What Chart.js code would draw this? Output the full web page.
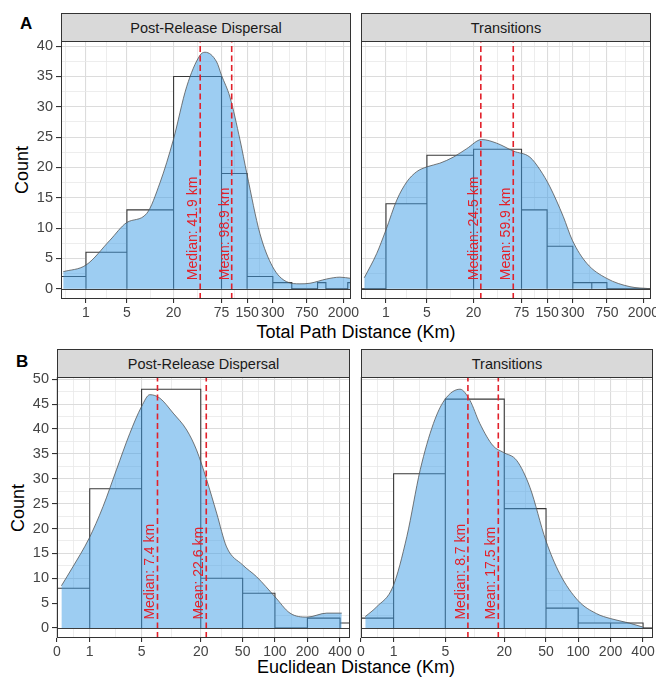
<!DOCTYPE html>
<html>
<head>
<meta charset="utf-8">
<title>Dispersal distances</title>
<script src="https://cdn.jsdelivr.net/npm/chart.js@4.4.1/dist/chart.umd.min.js"></script>
<style>
  body { margin: 0; background: #fff; font-family: "Liberation Sans", Arial, sans-serif; }
  #page { position: relative; width: 656px; height: 681px; overflow: hidden; background: #fff; }
  .panel { position: absolute; }
  .strip { position: absolute; height: 29px; box-sizing: border-box; background: #d9d9d9; border: 1px solid #333;
           color: #1a1a1a; font-size: 14.5px; display: flex; align-items: center; justify-content: center; }
  .tag { position: absolute; font-weight: bold; font-size: 17px; line-height: 17px; color: #000; }
  .xtitle, .ytitle { position: absolute; font-size: 18px; line-height: 18px; color: #000; white-space: nowrap;
                     transform: translate(-50%, -50%); }
  .ytitle { transform: translate(-50%, -50%) rotate(-90deg); }
</style>
</head>
<body>
<div id="page">
  <div class="tag" style="left:20px;top:15px">A</div>
  <div class="strip" style="left:61px;top:13px;width:290px">Post-Release Dispersal</div>
  <div class="strip" style="left:361px;top:13px;width:290px">Transitions</div>
  <div class="ytitle" style="left:22px;top:170px">Count</div>
  <div class="xtitle" style="left:356px;top:332px">Total Path Distance (Km)</div>
  <div class="panel" style="left:0;top:31px;width:361px;height:290px"><canvas id="pathDispersal"></canvas></div>
  <div class="panel" style="left:351px;top:31px;width:310px;height:290px"><canvas id="pathTransitions"></canvas></div>

  <div class="tag" style="left:16px;top:353px">B</div>
  <div class="strip" style="left:57px;top:349px;width:293px">Post-Release Dispersal</div>
  <div class="strip" style="left:361px;top:349px;width:292px">Transitions</div>
  <div class="ytitle" style="left:18px;top:508px">Count</div>
  <div class="xtitle" style="left:356px;top:667px">Euclidean Distance (Km)</div>
  <div class="panel" style="left:0;top:367px;width:360px;height:293px"><canvas id="euclDispersal"></canvas></div>
  <div class="panel" style="left:351px;top:367px;width:312px;height:293px"><canvas id="euclTransitions"></canvas></div>
</div>
<script>
// ---- data (distances in km, counts per bin) ----
const pathTicks = [1, 5, 20, 75, 150, 300, 750, 2000];
const euclTicks = [0, 1, 5, 20, 50, 100, 200, 400];
const pathCountTicks = [0, 5, 10, 15, 20, 25, 30, 35, 40];
const euclCountTicks = [0, 5, 10, 15, 20, 25, 30, 35, 40, 45, 50];

const pathBins = [0, 1, 5, 20, 75, 150, 300, 500, 750, 1000, 1250, 1500, 1750, 2000, 2250, 2500];
const pathCountsDispersal = [2, 6, 13, 35, 19, 2, 1, 0, 0, 1, 0, 0, 0, 0, 1];
const pathCountsTransitions = [0, 14, 22, 23, 13, 7, 1, 1, 0, 0, 0, 0, 0, 0, 0];

const euclBins = [0, 1, 5, 20, 50, 100, 200, 400, 600];
const euclCountsDispersal = [8, 28, 48, 10, 7, 0, 2, 1];
const euclCountsTransitions = [2, 31, 46, 24, 4, 1, 1, 0];

// density curves, scaled to counts
const pathDensKmDispersal = [0.086, 1, 2.81, 4.96, 9.2, 13.6, 19.8, 28.8, 41.7, 47.8, 65.7, 75, 94.3, 124, 149, 212, 299, 436, 623, 816, 1276, 1823, 2454];
const pathDensDispersal = [2.8, 3.9, 8.0, 10.9, 12.4, 17.5, 24.5, 33.3, 38.5, 39.0, 37.4, 35.2, 31.6, 24.5, 19.0, 9.1, 3.6, 1.15, 0.8, 0.9, 1.6, 1.9, 1.7];
const pathDensKmTransitions = [0.117, 0.56, 1, 1.67, 2.49, 3.56, 5.01, 7.5, 11.2, 16.5, 25.1, 38, 60, 94, 124, 162, 232, 296, 436, 746, 1395, 2387];
const pathDensTransitions = [1.8, 5.8, 9.7, 14.6, 17.6, 19.3, 20.1, 20.7, 21.7, 23.1, 24.6, 24.0, 22.7, 21.7, 19.6, 16.8, 11.9, 8.0, 4.2, 1.7, 0.33, 0.0];
const euclDensKmDispersal = [0.098, 0.40, 0.97, 1.65, 2.52, 3.67, 4.99, 6.14, 7.83, 10.7, 14.6, 18.2, 22.8, 28.4, 35.3, 49.9, 67.6, 100, 138, 199, 302, 415];
const euclDensDispersal = [8.5, 12.3, 18.0, 24.4, 31.8, 39.1, 44.5, 46.9, 46.2, 43.2, 39.8, 35.8, 29.8, 23.1, 16.3, 12.7, 10.3, 6.3, 3.0, 2.2, 3.0, 3.0];
const euclDensKmTransitions = [0.095, 0.40, 0.97, 1.65, 2.52, 3.66, 4.89, 7.2, 9.1, 11.5, 15.6, 19.6, 26.3, 35.2, 49.8, 67.4, 100, 148, 200, 298, 399];
const euclDensTransitions = [2.3, 4.3, 8.3, 18.4, 31.8, 41.1, 45.8, 48.0, 45.8, 41.1, 36.6, 35.3, 33.7, 28.3, 17.6, 10.9, 5.5, 2.9, 1.9, 1.0, 0.2];

const pathMedian = [41.9, 24.5];
const pathMean = [98.9, 59.9];
const euclMedian = [7.4, 8.7];
const euclMean = [22.6, 17.5];

// ---- styling ----
const RED = '#e2202a';
const GRID_MAJOR = '#dcdcdc';
const GRID_MINOR = '#e9e9e9';
Chart.defaults.font.family = '"Liberation Sans", Arial, sans-serif';

// x axis is log10(km + 1)
function log1p10(v) {
    return Math.log10(v + 1);
}

// major breaks plus ggplot-style minor breaks halfway between them
function tick_list(labels, min, max, tf) {
    let major = labels.map(tf);
    let step = major[1] - major[0];
    let edges = major.slice();
    if (min < major[0]) edges.unshift(major[0] - step);
    if (max > major[major.length - 1]) edges.push(major[major.length - 1] + step);
    let list = labels.map((v, i) => ({ value: major[i], text: String(v), minorGrid: false }));
    for (let i = 0; i < edges.length - 1; i++) {
        let mid = (edges[i] + edges[i + 1]) / 2;
        if (mid > min && mid < max) list.push({ value: mid, text: '', minorGrid: true });
    }
    return list.filter(t => t.value >= min && t.value <= max).sort((a, b) => a.value - b.value);
}

// each bin as its own rectangle outline (up, across, down)
function histogram_outline(bins, counts) {
    let pts = [];
    counts.forEach((c, i) => {
        let x0 = log1p10(bins[i]);
        let x1 = log1p10(bins[i + 1]);
        pts.push({ x: x0, y: 0 }, { x: x0, y: c }, { x: x1, y: c }, { x: x1, y: 0 });
    });
    return pts;
}

function density_points(km, counts) {
    return km.map((k, i) => ({ x: log1p10(k), y: counts[i] }));
}

const panelDecor = {
    id: 'panelDecor',
    afterDatasetsDraw(chart, args, opts) {
        const { ctx, chartArea: a, scales: { x, y } } = chart;
        const y0 = y.getPixelForValue(0);
        ctx.save();
        ctx.beginPath();
        ctx.rect(a.left, a.top, a.width, a.height);
        ctx.clip();
        // zero line
        ctx.strokeStyle = '#3d3d3d';
        ctx.lineWidth = 1;
        ctx.beginPath();
        ctx.moveTo(a.left, Math.round(y0) + 0.5);
        ctx.lineTo(a.right, Math.round(y0) + 0.5);
        ctx.stroke();
        // rotated median / mean labels
        ctx.font = '14px "Liberation Sans", Arial, sans-serif';
        ctx.fillStyle = RED;
        ctx.textAlign = 'left';
        ctx.textBaseline = 'alphabetic';
        (opts.labels || []).forEach(l => {
            ctx.save();
            ctx.translate(x.getPixelForValue(l.at) - 3, y0 - 8.5);
            ctx.rotate(-Math.PI / 2);
            ctx.fillText(l.text, 0, 0);
            ctx.restore();
        });
        ctx.restore();
        // panel border
        ctx.save();
        ctx.strokeStyle = '#333';
        ctx.lineWidth = 1;
        ctx.strokeRect(a.left + 0.5, a.top + 0.5, a.width - 1, a.height - 1);
        ctx.restore();
    }
};
Chart.register(panelDecor);

function makePanel(id, p) {
    const xTicks = tick_list(p.xLabels, p.xMin, p.xMax, log1p10);
    const yTicks = tick_list(p.yLabels, p.yMin, p.yMax, v => v);
    const medianX = log1p10(p.median);
    const meanX = log1p10(p.mean);
    const isMinor = c => c.tick && c.tick.minorGrid;

    return new Chart(document.getElementById(id), {
        type: 'line',
        data: {
            datasets: [
                {
                    data: [{ x: medianX, y: p.yMin }, { x: medianX, y: p.yMax }],
                    borderColor: RED, borderWidth: 1.6, borderDash: [6, 3.5], pointRadius: 0, order: 1
                },
                {
                    data: [{ x: meanX, y: p.yMin }, { x: meanX, y: p.yMax }],
                    borderColor: RED, borderWidth: 1.6, borderDash: [6, 3.5], pointRadius: 0, order: 1
                },
                {
                    data: density_points(p.densKm, p.dens),
                    borderColor: '#555', borderWidth: 0.8, backgroundColor: 'rgba(60,155,230,0.5)',
                    fill: 'origin', cubicInterpolationMode: 'monotone', pointRadius: 0, order: 2
                },
                {
                    data: histogram_outline(p.bins, p.counts),
                    borderColor: '#383838', borderWidth: 1.1, backgroundColor: '#fff',
                    fill: 'origin', pointRadius: 0, order: 3
                }
            ]
        },
        options: {
            responsive: true,
            maintainAspectRatio: false,
            animation: false,
            layout: { padding: p.padding },
            plugins: {
                legend: { display: false },
                tooltip: { enabled: false },
                panelDecor: {
                    labels: [
                        { at: medianX, text: `Median: ${p.median.toFixed(1)} km` },
                        { at: meanX, text: `Mean: ${p.mean.toFixed(1)} km` }
                    ]
                }
            },
            scales: {
                x: {
                    type: 'linear',
                    min: p.xMin,
                    max: p.xMax,
                    afterBuildTicks: s => { s.ticks = xTicks.map(t => Object.assign({}, t)); },
                    afterFit: s => { s.height = 22; s.paddingLeft = 0; s.paddingRight = 0; },
                    border: { display: false },
                    grid: {
                        color: c => isMinor(c) ? GRID_MINOR : GRID_MAJOR,
                        lineWidth: c => isMinor(c) ? 0.8 : 1.1,
                        tickColor: c => isMinor(c) ? 'rgba(0,0,0,0)' : '#333',
                        tickLength: 4
                    },
                    ticks: {
                        autoSkip: false, maxRotation: 0, minRotation: 0, padding: 2,
                        color: '#444', font: { size: 14 },
                        callback: (v, i, ticks) => ticks[i].text
                    }
                },
                y: {
                    type: 'linear',
                    min: p.yMin,
                    max: p.yMax,
                    afterBuildTicks: s => { s.ticks = yTicks.map(t => Object.assign({}, t)); },
                    afterFit: s => { s.width = p.yWidth; s.paddingTop = 0; s.paddingBottom = 0; },
                    border: { display: false },
                    grid: {
                        color: c => isMinor(c) ? GRID_MINOR : GRID_MAJOR,
                        lineWidth: c => isMinor(c) ? 0.8 : 1.1,
                        tickColor: c => isMinor(c) ? 'rgba(0,0,0,0)' : '#333',
                        tickLength: 5,
                        drawTicks: p.yWidth > 0
                    },
                    ticks: {
                        display: p.yWidth > 0,
                        autoSkip: false, padding: 3,
                        color: '#444', font: { size: 14.5 },
                        callback: (v, i, ticks) => ticks[i].text
                    }
                }
            }
        }
    });
}

makePanel('pathDispersal', {
    bins: pathBins, counts: pathCountsDispersal,
    densKm: pathDensKmDispersal, dens: pathDensDispersal,
    median: pathMedian[0], mean: pathMean[0],
    xLabels: pathTicks, xMin: 0.01, xMax: 3.39,
    yLabels: pathCountTicks, yMin: -1.7, yMax: 40.85,
    yWidth: 61, padding: { left: 0, right: 10, top: 10, bottom: 0 }
});
makePanel('pathTransitions', {
    bins: pathBins, counts: pathCountsTransitions,
    densKm: pathDensKmTransitions, dens: pathDensTransitions,
    median: pathMedian[1], mean: pathMean[1],
    xLabels: pathTicks, xMin: 0.01, xMax: 3.39,
    yLabels: pathCountTicks, yMin: -1.7, yMax: 40.85,
    yWidth: 0, padding: { left: 10, right: 10, top: 10, bottom: 0 }
});
makePanel('euclDispersal', {
    bins: euclBins, counts: euclCountsDispersal,
    densKm: euclDensKmDispersal, dens: euclDensDispersal,
    median: euclMedian[0], mean: euclMean[0],
    xLabels: euclTicks, xMin: 0, xMax: 2.695,
    yLabels: euclCountTicks, yMin: -2.0, yMax: 50.45,
    yWidth: 57, padding: { left: 0, right: 10, top: 10, bottom: 0 }
});
makePanel('euclTransitions', {
    bins: euclBins, counts: euclCountsTransitions,
    densKm: euclDensKmTransitions, dens: euclDensTransitions,
    median: euclMedian[1], mean: euclMean[1],
    xLabels: euclTicks, xMin: 0, xMax: 2.695,
    yLabels: euclCountTicks, yMin: -2.0, yMax: 50.45,
    yWidth: 0, padding: { left: 10, right: 10, top: 10, bottom: 0 }
});
</script>
</body>
</html>
